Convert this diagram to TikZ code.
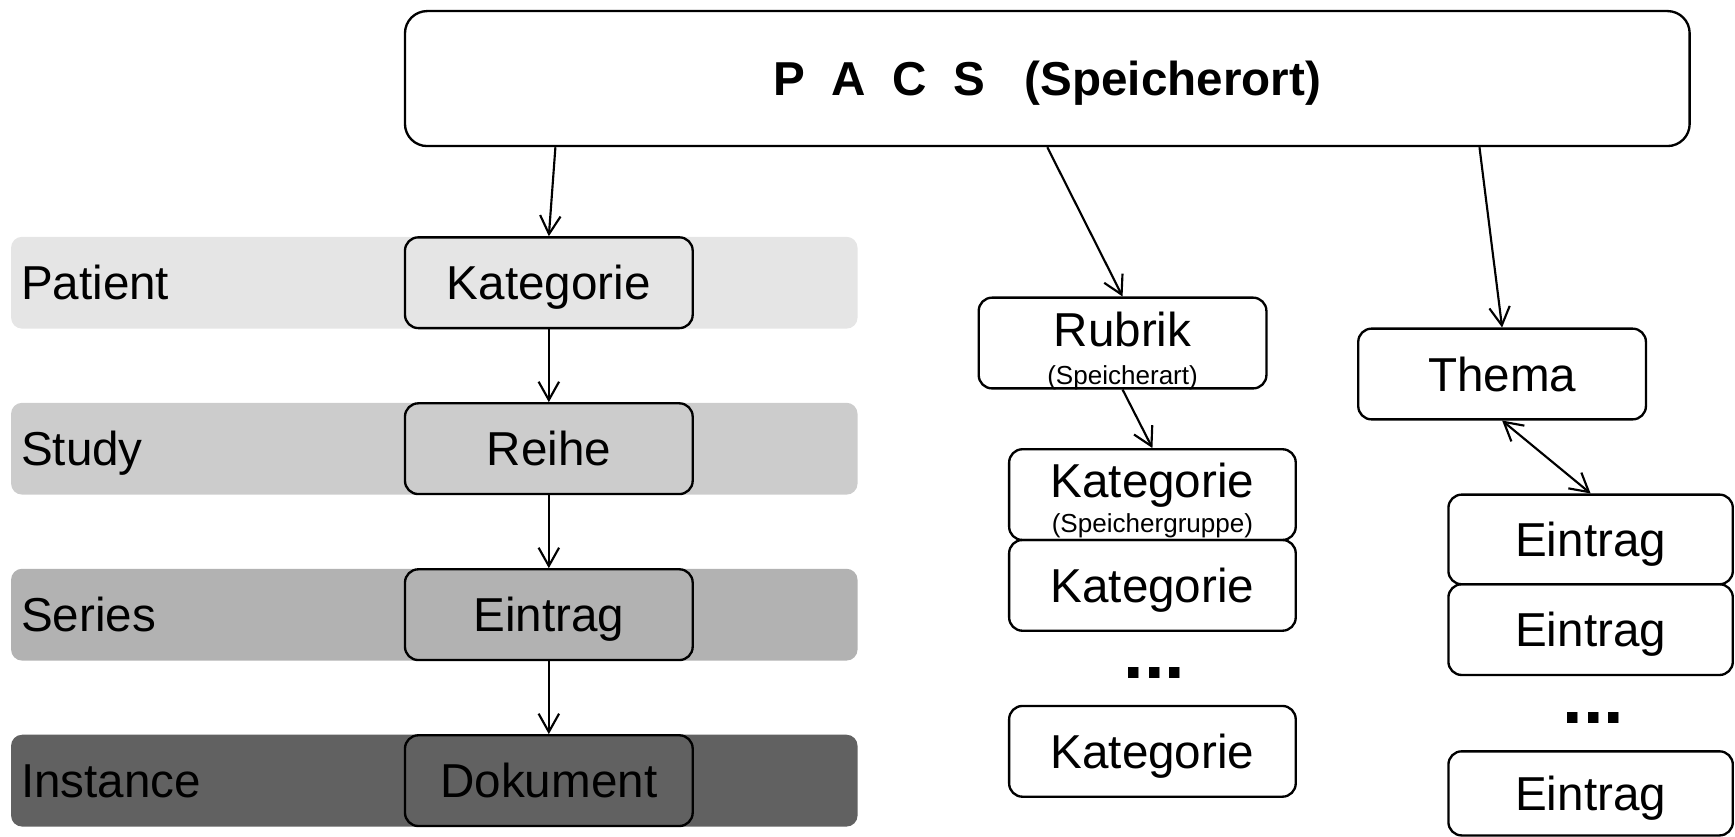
\documentclass[tikz,border=0pt]{standalone}
\usepackage{fontspec}
\setmainfont{Liberation Sans}
\usetikzlibrary{arrows.meta,positioning}

\definecolor{patientgray}{gray}{0.90}
\definecolor{studygray}{gray}{0.80}
\definecolor{seriesgray}{gray}{0.70}
\definecolor{instancegray}{gray}{0.38}

\begin{document}
\begin{tikzpicture}[
			font=\fontsize{12.24}{14}\selectfont,
			>={Straight Barb[length=1.65mm,width=1.85mm]},
			box/.style={draw, line width=0.6pt, rounded corners=0.12cm, minimum width=2.6cm, minimum height=0.82cm, inner sep=0pt, text height=8.8pt, text depth=0pt},
			band/.style={rounded corners=0.1cm, minimum width=7.65cm, minimum height=0.83cm, inner sep=0pt},
			rowlabel/.style={inner sep=0pt, text height=8.8pt, text depth=0pt},
			subtext/.style={inner sep=0pt, anchor=base, font=\fontsize{6.7}{8}\selectfont},
			dots/.style={inner sep=0pt, anchor=base, font=\fontsize{19}{20}\selectfont\bfseries},
			link/.style={->, line width=0.55pt}
			]
			\useasboundingbox (0,0) rectangle (15.68,-7.56);
			
			% PACS
			\node[box, rounded corners=0.2cm, minimum width=11.61cm, minimum height=1.22cm, font=\fontsize{12.24}{14}\selectfont\bfseries] (pacs) at (9.465,-0.71) {P\ \ A\ \ C\ \ S\ \ \ (Speicherort)};
			
			% DICOM levels
			\node[band, fill=patientgray] (patient) at (3.925,-2.555) {};
			\node[band, fill=studygray] (study) at (3.925,-4.055) {};
			\node[band, fill=seriesgray] (series) at (3.925,-5.555) {};
			\node[band, fill=instancegray] (instance) at (3.925,-7.055) {};
			\node[rowlabel, right=0.09cm of patient.west] (patientlbl) {Patient};
			\node[rowlabel, right=0.09cm of study.west] (studylbl) {Study};
			\node[rowlabel, right=0.09cm of series.west] (serieslbl) {Series};
			\node[rowlabel, right=0.09cm of instance.west] (instancelbl) {Instance};
			
			\node[box] (kategorie) at (4.96,-2.555) {Kategorie};
			\node[box] (reihe) at (4.96,-4.055) {Reihe};
			\node[box] (eintrag) at (4.96,-5.555) {Eintrag};
			\node[box] (dokument) at (4.96,-7.055) {Dokument};
			
			% Rubrik column
			\node[box, text depth=0.24cm] (rubrik) at (10.145,-3.10) {Rubrik};
			\node[subtext] (rubrikart) at ([yshift=0.05cm]rubrik.south) {(Speicherart)};
			\node[box, minimum width=2.59cm, text depth=0.26cm] (kat1) at (10.415,-4.47) {Kategorie};
			\node[subtext] (kat1gruppe) at ([yshift=0.08cm]kat1.south) {(Speichergruppe)};
			\node[box, minimum width=2.59cm] (kat2) at (10.415,-5.29) {Kategorie};
			\node[dots] (katdots) at (10.435,-6.13) {...};
			\node[box, minimum width=2.59cm] (kat3) at (10.415,-6.79) {Kategorie};
			
			% Thema column
			\node[box] (thema) at (13.575,-3.38) {Thema};
			\node[box, minimum width=2.57cm, minimum height=0.81cm] (ein1) at (14.375,-4.875) {Eintrag};
			\node[box, minimum width=2.57cm] (ein2) at (14.375,-5.69) {Eintrag};
			\node[dots] (eindots) at (14.40,-6.54) {...};
			\node[box, minimum width=2.57cm, minimum height=0.76cm] (ein3) at (14.375,-7.17) {Eintrag};
			
			% Arrows
			\draw[link] ([xshift=1.37cm]pacs.south west) -- (kategorie.north);
			\draw[link] (kategorie) -- (reihe);
			\draw[link] (reihe) -- (eintrag);
			\draw[link] (eintrag) -- (dokument);
			\draw[link] (pacs.south) -- (rubrik.north);
			\draw[link] (rubrik.south) -- (kat1.north);
			\draw[link] ([xshift=-1.91cm]pacs.south east) -- (thema.north);
			\draw[<->, line width=0.55pt] (thema.south) -- (ein1.north);
			
		\end{tikzpicture}
\end{document}
